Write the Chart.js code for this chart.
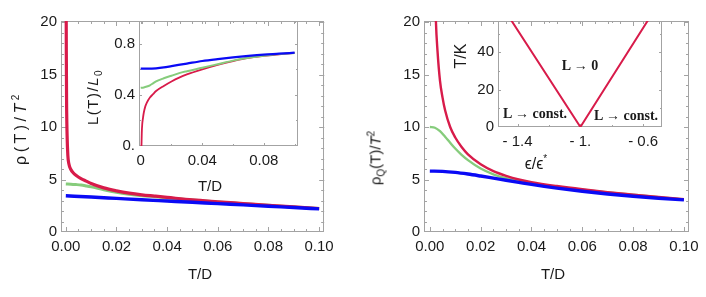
<!DOCTYPE html>
<html>
<head>
<meta charset="utf-8">
<script src="https://cdn.jsdelivr.net/npm/chart.js@4.4.0/dist/chart.umd.min.js"></script>
<style>
  body { margin: 0; background: #fff; width: 706px; height: 297px; overflow: hidden; position: relative;
         font-family: "Liberation Sans", Arial, sans-serif; }
  canvas { position: absolute; }
  .lbl { position: absolute; font-size: 15px; color: #1a1a1a; white-space: nowrap; transform: translate(-50%, -50%); }
  .rot { transform: translate(-50%, -50%) rotate(-90deg); }
  .ann { position: absolute; font-family: "Liberation Serif", "DejaVu Serif", serif; font-weight: bold;
         font-size: 14px; color: #1a1a1a; white-space: nowrap; transform: translate(-50%, -50%); }
  sup, sub { font-size: 10px; }
</style>
</head>
<body>
<canvas id="mainL" width="340" height="297" style="left:0;top:0"></canvas>
<canvas id="mainR" width="350" height="297" style="left:356px;top:0"></canvas>
<canvas id="insetL" width="230" height="200" style="left:80px;top:0"></canvas>
<canvas id="insetR" width="240" height="180" style="left:440px;top:0"></canvas>

<div class="lbl rot" style="left:20px;top:128px;font-size:16px;letter-spacing:3.5px">ρ(T)/<i>T</i><sup>2</sup></div>
<div class="lbl" style="left:200px;top:273px">T/D</div>
<div class="lbl rot" style="left:94px;top:97px;letter-spacing:1.5px">L(T)/<i>L</i><sub>0</sub></div>
<div class="lbl" style="left:210px;top:185px">T/D</div>
<div class="lbl rot" style="left:376px;top:158px">ρ<sub>Q</sub>(T)/<i>T</i><sup>2</sup></div>
<div class="lbl" style="left:553px;top:273px">T/D</div>
<div class="lbl rot" style="left:461px;top:56px;font-size:16px">T/K</div>
<div class="lbl" style="left:536px;top:163px;font-size:16px">ϵ/ϵ<sup>*</sup></div>
<div class="ann" style="left:580px;top:66px">L → 0</div>
<div class="ann" style="left:535px;top:114px">L → const.</div>
<div class="ann" style="left:626px;top:116px">L → const.</div>

<script>
// ---- left panel: rho(T)/T^2 vs T/D ----
const redL_T = [0.0001, 0.0002, 0.0003, 0.0005, 0.0008, 0.0012, 0.002, 0.003, 0.004, 0.006, 0.008, 0.01,
  0.015, 0.02, 0.025, 0.03, 0.035, 0.04, 0.05, 0.06, 0.07, 0.08, 0.09, 0.1];
const redL = [25, 17, 12.5, 9.3, 7.3, 6.5, 5.95, 5.62, 5.4, 5.08, 4.85, 4.62,
  4.2, 3.92, 3.7, 3.54, 3.42, 3.3, 3.06, 2.88, 2.71, 2.54, 2.39, 2.24];
const greenL_T = [0, 0.002, 0.004, 0.006, 0.008, 0.01, 0.015, 0.02, 0.025, 0.03, 0.035, 0.04, 0.05, 0.06, 0.07, 0.08, 0.09, 0.1];
const greenL = [4.58, 4.56, 4.52, 4.47, 4.39, 4.3, 4.02, 3.78, 3.6, 3.46, 3.36, 3.25, 3.05, 2.87, 2.7, 2.54, 2.39, 2.24];
const blueL_T = [0, 0.01, 0.02, 0.03, 0.04, 0.05, 0.06, 0.07, 0.08, 0.09, 0.1];
const blueL = [3.45, 3.33, 3.2, 3.07, 2.95, 2.83, 2.7, 2.58, 2.45, 2.33, 2.2];

// ---- left inset: L(T)/L0 ----
const redIn_T = [0.0005, 0.0007, 0.001, 0.0015, 0.002, 0.003, 0.004, 0.006, 0.008, 0.01, 0.015, 0.02, 0.025, 0.03,
  0.04, 0.05, 0.06, 0.07, 0.08, 0.09, 0.1];
const redIn = [0, 0.1, 0.17, 0.22, 0.26, 0.31, 0.34, 0.38, 0.405, 0.43, 0.47, 0.505, 0.535, 0.56,
  0.6, 0.635, 0.665, 0.69, 0.705, 0.718, 0.728];
const greenIn_T = [0, 0.002, 0.004, 0.006, 0.008, 0.01, 0.015, 0.02, 0.025, 0.03, 0.04, 0.05, 0.06, 0.07, 0.08, 0.09, 0.1];
const greenIn = [0.455, 0.458, 0.465, 0.475, 0.49, 0.505, 0.53, 0.55, 0.57, 0.585, 0.612, 0.64, 0.668, 0.69, 0.706, 0.719, 0.728];
const blueIn_T = [0, 0.005, 0.01, 0.015, 0.02, 0.03, 0.04, 0.05, 0.06, 0.07, 0.08, 0.09, 0.1];
const blueIn = [0.605, 0.605, 0.608, 0.615, 0.625, 0.645, 0.665, 0.68, 0.693, 0.705, 0.715, 0.722, 0.73];

// ---- right panel: rho_Q(T)/T^2 vs T/D ----
const redR_T = [0.0018, 0.0024, 0.003, 0.004, 0.005, 0.006, 0.008, 0.01, 0.0125, 0.015, 0.02, 0.025, 0.03, 0.035,
  0.04, 0.05, 0.06, 0.07, 0.08, 0.09, 0.1];
const redR = [26, 20, 17.3, 14.4, 12.8, 11.6, 10.0, 9.0, 8.1, 7.4, 6.45, 5.8, 5.35, 5.0,
  4.75, 4.38, 4.07, 3.8, 3.56, 3.33, 3.12];
const greenR_T = [0, 0.002, 0.004, 0.006, 0.008, 0.01, 0.0125, 0.015, 0.02, 0.025, 0.03, 0.035, 0.04, 0.05, 0.06, 0.07, 0.08, 0.09, 0.1];
const greenR = [10, 9.93, 9.6, 9.07, 8.5, 7.95, 7.35, 6.85, 6.05, 5.5, 5.12, 4.85, 4.62, 4.3, 4.03, 3.78, 3.55, 3.32, 3.11];
const blueR_T = [0, 0.005, 0.01, 0.015, 0.02, 0.025, 0.03, 0.035, 0.04, 0.045, 0.05, 0.06, 0.07, 0.08, 0.09, 0.1];
const blueR = [5.8, 5.78, 5.68, 5.52, 5.33, 5.13, 4.93, 4.73, 4.53, 4.35, 4.18, 3.88, 3.62, 3.4, 3.22, 3.06];

// ---- right inset: phase diagram T/K vs eps/eps* ----
const phaseEps = [-1.44, -1, -0.57];
const phaseT = [57, 0, 57];

// tick values and labels
const mainXTicks = [0, 0.02, 0.04, 0.06, 0.08, 0.1];
const mainXLabels = ["0.00", "0.02", "0.04", "0.06", "0.08", "0.10"];
const mainYTicks = [0, 5, 10, 15, 20];
const mainYLabels = ["0", "5", "10", "15", "20"];
const inLXTicks = [0, 0.04, 0.08];
const inLXLabels = ["0", "0.04", "0.08"];
const inLYTicks = [0, 0.4, 0.8];
const inLYLabels = ["0.", "0.4", "0.8"];
const inRXTicks = [-1.4, -1, -0.6];
const inRXLabels = ["- 1.4", "- 1.", "- 0.6"];
const inRYTicks = [0, 20, 40];
const inRYLabels = ["0", "20", "40"];

const RED = "#d81b4a";
const GREEN = "#86cc7c";
const BLUE = "#0a0af5";
const FRAME = "#a3a3a3";

function pts(xs, ys) {
  return xs.map((x, i) => ({ x: x, y: ys[i] }));
}

// frame with inward ticks on all four sides (Mathematica style)
const framePlugin = {
  id: "frame",
  beforeDatasetsDraw(chart, args, o) {
    const { ctx, chartArea: a, scales } = chart;
    const sx = scales.x, sy = scales.y;
    ctx.save();
    ctx.strokeStyle = FRAME;
    ctx.lineWidth = 1;
    ctx.strokeRect(Math.round(a.left) + 0.5, Math.round(a.top) + 0.5,
      Math.round(a.right - a.left) - 1, Math.round(a.bottom - a.top) - 1);
    ctx.beginPath();
    const tickX = (v, len) => {
      const p = Math.round(sx.getPixelForValue(v)) + 0.5;
      if (p < a.left || p > a.right) return;
      ctx.moveTo(p, a.bottom); ctx.lineTo(p, a.bottom - len);
      ctx.moveTo(p, a.top); ctx.lineTo(p, a.top + len);
    };
    const tickY = (v, len) => {
      const p = Math.round(sy.getPixelForValue(v)) + 0.5;
      if (p < a.top || p > a.bottom) return;
      ctx.moveTo(a.left, p); ctx.lineTo(a.left + len, p);
      ctx.moveTo(a.right, p); ctx.lineTo(a.right - len, p);
    };
    for (let v = o.x0; v <= o.x1 + 1e-9; v += o.xMinor) tickX(v, o.minor);
    for (let v = o.y0; v <= o.y1 + 1e-9; v += o.yMinor) tickY(v, o.minor);
    o.xMajor.forEach(v => tickX(v, o.major));
    o.yMajor.forEach(v => tickY(v, o.major));
    ctx.stroke();
    ctx.restore();
  }
};

function axis(min, max, ticks, labels, fit, isX) {
  return {
    type: "linear",
    min: min,
    max: max,
    grid: { display: false, drawTicks: false },
    border: { display: false },
    afterBuildTicks: s => { s.ticks = ticks.map(v => ({ value: v })); },
    afterFit: s => { if (isX) s.height = fit; else s.width = fit; },
    ticks: {
      autoSkip: false,
      maxRotation: 0,
      padding: isX ? 6 : 4,
      color: "#1a1a1a",
      font: { family: "Liberation Sans", size: 15 },
      callback: (v, i) => labels[i]
    }
  };
}

function line(data, color, width, straight) {
  return {
    data: data,
    borderColor: color,
    borderWidth: width,
    pointRadius: 0,
    showLine: true,
    fill: false,
    tension: 0,
    cubicInterpolationMode: straight ? "default" : "monotone"
  };
}

function makeChart(id, datasets, xs, ys, pad, frame) {
  return new Chart(document.getElementById(id).getContext("2d"), {
    type: "scatter",
    data: { datasets: datasets },
    options: {
      responsive: false,
      animation: false,
      devicePixelRatio: 1,
      layout: { padding: pad },
      plugins: { legend: { display: false }, tooltip: { enabled: false }, frame: frame },
      scales: { x: xs, y: ys }
    },
    plugins: [framePlugin]
  });
}

// left main
makeChart("mainL",
  [line(pts(blueL_T, blueL), BLUE, 3.4), line(pts(redL_T, redL), RED, 3.2), line(pts(greenL_T, greenL), GREEN, 3)],
  axis(-0.0019, 0.102, mainXTicks, mainXLabels, 65, true),
  axis(0, 20.1, mainYTicks, mainYLabels, 61, false),
  { left: 0, right: 15, top: 21, bottom: 0 },
  { x0: 0, x1: 0.1, xMinor: 0.005, y0: 0, y1: 20, yMinor: 1, xMajor: mainXTicks, yMajor: mainYTicks, major: 5, minor: 3 });

// right main
makeChart("mainR",
  [line(pts(blueR_T, blueR), BLUE, 3.4), line(pts(redR_T, redR), RED, 2.4), line(pts(greenR_T, greenR), GREEN, 2.4)],
  axis(-0.0023, 0.102, mainXTicks, mainXLabels, 65, true),
  axis(0, 20.1, mainYTicks, mainYLabels, 68, false),
  { left: 0, right: 17, top: 21, bottom: 0 },
  { x0: 0, x1: 0.1, xMinor: 0.005, y0: 0, y1: 20, yMinor: 1, xMajor: mainXTicks, yMajor: mainYTicks, major: 5, minor: 3 });

// left inset
makeChart("insetL",
  [line(pts(blueIn_T, blueIn), BLUE, 2.2), line(pts(greenIn_T, greenIn), GREEN, 2), line(pts(redIn_T, redIn), RED, 1.8)],
  axis(-0.0011, 0.1022, inLXTicks, inLXLabels, 54, true),
  axis(0, 0.978, inLYTicks, inLYLabels, 59, false),
  { left: 0, right: 12, top: 21, bottom: 0 },
  { x0: 0, x1: 0.1, xMinor: 0.02, y0: 0, y1: 0.9, yMinor: 0.2, xMajor: inLXTicks, yMajor: inLYTicks, major: 3, minor: 2 });

// right inset
makeChart("insetR",
  [line(pts(phaseEps, phaseT), RED, 2, true)],
  axis(-1.525, -0.48, inRXTicks, inRXLabels, 53, true),
  axis(0, 56.7, inRYTicks, inRYLabels, 58, false),
  { left: 0, right: 18, top: 21, bottom: 0 },
  { x0: -1.4, x1: -0.6, xMinor: 0.2, y0: 0, y1: 50, yMinor: 10, xMajor: inRXTicks, yMajor: inRYTicks, major: 3, minor: 2 });
</script>
</body>
</html>
